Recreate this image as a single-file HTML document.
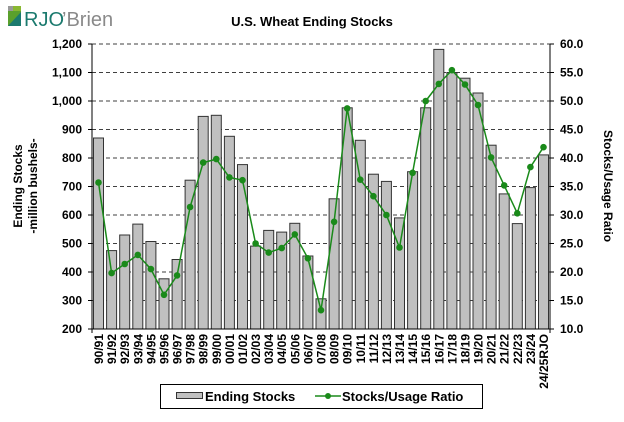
<!DOCTYPE html>
<html><head><meta charset="utf-8"><style>body{margin:0;background:#fff}svg{display:block;font-family:"Liberation Sans",Arial,sans-serif}</style></head><body>
<svg width="624" height="422" viewBox="0 0 624 422">
<rect width="624" height="422" fill="#fff"/>
<g>
<rect x="8" y="6" width="5" height="5" fill="#999"/><rect x="13" y="6" width="8" height="5" fill="#8ab832"/>
<rect x="8" y="11" width="13" height="15" fill="#5aa02c"/><path d="M8 26 L21 12 L21 26 Z" fill="#1b7a6e"/>
<text x="24" y="26" font-size="20" fill="#1b7a6e">RJO</text><text x="62" y="26" font-size="20" fill="#8a8a8a">’Brien</text>
</g>
<text x="312" y="26" font-size="13" font-weight="bold" text-anchor="middle">U.S. Wheat Ending Stocks</text>
<g stroke="#000" stroke-width="0.8" stroke-dasharray="4,3">
<line x1="92" x2="550" y1="44" y2="44"/><line x1="92" x2="550" y1="72.5" y2="72.5"/><line x1="92" x2="550" y1="101" y2="101"/><line x1="92" x2="550" y1="129.5" y2="129.5"/><line x1="92" x2="550" y1="158" y2="158"/><line x1="92" x2="550" y1="186.5" y2="186.5"/><line x1="92" x2="550" y1="215" y2="215"/><line x1="92" x2="550" y1="243.5" y2="243.5"/><line x1="92" x2="550" y1="272" y2="272"/><line x1="92" x2="550" y1="300.5" y2="300.5"/>
</g>
<g fill="#c0c0c0" stroke="#333" stroke-width="1">
<rect x="93.5" y="138" width="10" height="191"/><rect x="106.6" y="250.6" width="10" height="78.4"/><rect x="119.7" y="235" width="10" height="94"/><rect x="132.8" y="224.1" width="10" height="104.9"/><rect x="145.9" y="241.5" width="10" height="87.5"/><rect x="159" y="278.8" width="10" height="50.2"/><rect x="172.1" y="259.5" width="10" height="69.5"/><rect x="185.1" y="180.2" width="10" height="148.8"/><rect x="198.2" y="116.4" width="10" height="212.6"/><rect x="211.3" y="115.3" width="10" height="213.7"/><rect x="224.4" y="136.3" width="10" height="192.7"/><rect x="237.5" y="164.6" width="10" height="164.4"/><rect x="250.6" y="246.1" width="10" height="82.9"/><rect x="263.7" y="230.4" width="10" height="98.6"/><rect x="276.7" y="232.1" width="10" height="96.9"/><rect x="289.8" y="223.3" width="10" height="105.7"/><rect x="302.9" y="256" width="10" height="73"/><rect x="316" y="298.8" width="10" height="30.2"/><rect x="329.1" y="198.8" width="10" height="130.2"/><rect x="342.2" y="107.8" width="10" height="221.2"/><rect x="355.3" y="140.3" width="10" height="188.7"/><rect x="368.4" y="174.2" width="10" height="154.8"/><rect x="381.4" y="181.4" width="10" height="147.6"/><rect x="394.5" y="217.9" width="10" height="111.1"/><rect x="407.6" y="171.7" width="10" height="157.3"/><rect x="420.7" y="107.8" width="10" height="221.2"/><rect x="433.8" y="49.4" width="10" height="279.6"/><rect x="446.9" y="72.5" width="10" height="256.5"/><rect x="460" y="78.2" width="10" height="250.8"/><rect x="473" y="93" width="10" height="236"/><rect x="486.1" y="145.2" width="10" height="183.8"/><rect x="499.2" y="193.9" width="10" height="135.1"/><rect x="512.3" y="223.6" width="10" height="105.4"/><rect x="525.4" y="187.6" width="10" height="141.4"/><rect x="538.5" y="154.9" width="10" height="174.1"/>
</g>
<polyline fill="none" stroke="#1a8a1a" stroke-width="1.5" points="98.5,182.5 111.6,273.1 124.7,264 137.8,254.9 150.9,269.1 164,294.8 177.1,275.4 190.1,207 203.2,162.6 216.3,159.1 229.4,177.4 242.5,180.2 255.6,243.5 268.7,252.6 281.7,248.1 294.8,234.4 307.9,258.3 321,310.2 334.1,221.8 347.2,108.4 360.3,179.7 373.4,196.2 386.4,215 399.5,247.5 412.6,172.8 425.7,101 438.8,83.9 451.9,70.2 465,84.5 478,105 491.1,157.4 504.2,185.4 517.3,213.3 530.4,167.1 543.5,147.2"/>
<g fill="#1a8a1a">
<circle cx="98.5" cy="182.5" r="3.3"/><circle cx="111.6" cy="273.1" r="3.3"/><circle cx="124.7" cy="264" r="3.3"/><circle cx="137.8" cy="254.9" r="3.3"/><circle cx="150.9" cy="269.1" r="3.3"/><circle cx="164" cy="294.8" r="3.3"/><circle cx="177.1" cy="275.4" r="3.3"/><circle cx="190.1" cy="207" r="3.3"/><circle cx="203.2" cy="162.6" r="3.3"/><circle cx="216.3" cy="159.1" r="3.3"/><circle cx="229.4" cy="177.4" r="3.3"/><circle cx="242.5" cy="180.2" r="3.3"/><circle cx="255.6" cy="243.5" r="3.3"/><circle cx="268.7" cy="252.6" r="3.3"/><circle cx="281.7" cy="248.1" r="3.3"/><circle cx="294.8" cy="234.4" r="3.3"/><circle cx="307.9" cy="258.3" r="3.3"/><circle cx="321" cy="310.2" r="3.3"/><circle cx="334.1" cy="221.8" r="3.3"/><circle cx="347.2" cy="108.4" r="3.3"/><circle cx="360.3" cy="179.7" r="3.3"/><circle cx="373.4" cy="196.2" r="3.3"/><circle cx="386.4" cy="215" r="3.3"/><circle cx="399.5" cy="247.5" r="3.3"/><circle cx="412.6" cy="172.8" r="3.3"/><circle cx="425.7" cy="101" r="3.3"/><circle cx="438.8" cy="83.9" r="3.3"/><circle cx="451.9" cy="70.2" r="3.3"/><circle cx="465" cy="84.5" r="3.3"/><circle cx="478" cy="105" r="3.3"/><circle cx="491.1" cy="157.4" r="3.3"/><circle cx="504.2" cy="185.4" r="3.3"/><circle cx="517.3" cy="213.3" r="3.3"/><circle cx="530.4" cy="167.1" r="3.3"/><circle cx="543.5" cy="147.2" r="3.3"/>
</g>
<g stroke="#000" stroke-width="1">
<line x1="92" y1="44" x2="92" y2="333"/><line x1="550" y1="44" x2="550" y2="333"/><line x1="88" y1="329" x2="554" y2="329"/>
<line x1="88" x2="92" y1="44" y2="44"/><line x1="88" x2="92" y1="72.5" y2="72.5"/><line x1="88" x2="92" y1="101" y2="101"/><line x1="88" x2="92" y1="129.5" y2="129.5"/><line x1="88" x2="92" y1="158" y2="158"/><line x1="88" x2="92" y1="186.5" y2="186.5"/><line x1="88" x2="92" y1="215" y2="215"/><line x1="88" x2="92" y1="243.5" y2="243.5"/><line x1="88" x2="92" y1="272" y2="272"/><line x1="88" x2="92" y1="300.5" y2="300.5"/>
<line x1="550" x2="554" y1="44" y2="44"/><line x1="550" x2="554" y1="72.5" y2="72.5"/><line x1="550" x2="554" y1="101" y2="101"/><line x1="550" x2="554" y1="129.5" y2="129.5"/><line x1="550" x2="554" y1="158" y2="158"/><line x1="550" x2="554" y1="186.5" y2="186.5"/><line x1="550" x2="554" y1="215" y2="215"/><line x1="550" x2="554" y1="243.5" y2="243.5"/><line x1="550" x2="554" y1="272" y2="272"/><line x1="550" x2="554" y1="300.5" y2="300.5"/>
</g>
<g font-size="12" font-weight="bold" text-anchor="end">
<text x="82" y="48">1,200</text><text x="82" y="76.5">1,100</text><text x="82" y="105">1,000</text><text x="82" y="133.5">900</text><text x="82" y="162">800</text><text x="82" y="190.5">700</text><text x="82" y="219">600</text><text x="82" y="247.5">500</text><text x="82" y="276">400</text><text x="82" y="304.5">300</text><text x="82" y="333">200</text>
</g>
<g font-size="12" font-weight="bold">
<text x="560" y="48">60.0</text><text x="560" y="76.5">55.0</text><text x="560" y="105">50.0</text><text x="560" y="133.5">45.0</text><text x="560" y="162">40.0</text><text x="560" y="190.5">35.0</text><text x="560" y="219">30.0</text><text x="560" y="247.5">25.0</text><text x="560" y="276">20.0</text><text x="560" y="304.5">15.0</text><text x="560" y="333">10.0</text>
</g>
<g font-size="12" font-weight="bold" text-anchor="end">
<text transform="translate(103,334) rotate(-90)">90/91</text><text transform="translate(116.1,334) rotate(-90)">91/92</text><text transform="translate(129.2,334) rotate(-90)">92/93</text><text transform="translate(142.3,334) rotate(-90)">93/94</text><text transform="translate(155.4,334) rotate(-90)">94/95</text><text transform="translate(168.5,334) rotate(-90)">95/96</text><text transform="translate(181.6,334) rotate(-90)">96/97</text><text transform="translate(194.6,334) rotate(-90)">97/98</text><text transform="translate(207.7,334) rotate(-90)">98/99</text><text transform="translate(220.8,334) rotate(-90)">99/00</text><text transform="translate(233.9,334) rotate(-90)">00/01</text><text transform="translate(247,334) rotate(-90)">01/02</text><text transform="translate(260.1,334) rotate(-90)">02/03</text><text transform="translate(273.2,334) rotate(-90)">03/04</text><text transform="translate(286.2,334) rotate(-90)">04/05</text><text transform="translate(299.3,334) rotate(-90)">05/06</text><text transform="translate(312.4,334) rotate(-90)">06/07</text><text transform="translate(325.5,334) rotate(-90)">07/08</text><text transform="translate(338.6,334) rotate(-90)">08/09</text><text transform="translate(351.7,334) rotate(-90)">09/10</text><text transform="translate(364.8,334) rotate(-90)">10/11</text><text transform="translate(377.9,334) rotate(-90)">11/12</text><text transform="translate(390.9,334) rotate(-90)">12/13</text><text transform="translate(404,334) rotate(-90)">13/14</text><text transform="translate(417.1,334) rotate(-90)">14/15</text><text transform="translate(430.2,334) rotate(-90)">15/16</text><text transform="translate(443.3,334) rotate(-90)">16/17</text><text transform="translate(456.4,334) rotate(-90)">17/18</text><text transform="translate(469.5,334) rotate(-90)">18/19</text><text transform="translate(482.5,334) rotate(-90)">19/20</text><text transform="translate(495.6,334) rotate(-90)">20/21</text><text transform="translate(508.7,334) rotate(-90)">21/22</text><text transform="translate(521.8,334) rotate(-90)">22/23</text><text transform="translate(534.9,334) rotate(-90)">23/24</text><text transform="translate(548,334) rotate(-90)">24/25RJO</text>
</g>
<g font-size="12" font-weight="bold" text-anchor="middle">
<text transform="translate(22,186) rotate(-90)">Ending Stocks</text>
<text transform="translate(37,186) rotate(-90)">-million bushels-</text>
<text transform="translate(604,186) rotate(90)">Stocks/Usage Ratio</text>
</g>
<rect x="160.5" y="384.5" width="322" height="24" fill="#fff" stroke="#000" stroke-width="1"/>
<rect x="176.5" y="392.5" width="26" height="6" fill="#c0c0c0" stroke="#333"/>
<text x="205" y="401" font-size="13" font-weight="bold">Ending Stocks</text>
<line x1="315" x2="341" y1="396" y2="396" stroke="#1a8a1a" stroke-width="1.5"/><circle cx="328" cy="396" r="3" fill="#1a8a1a"/>
<text x="342" y="401" font-size="13" font-weight="bold">Stocks/Usage Ratio</text>
</svg>
</body></html>
